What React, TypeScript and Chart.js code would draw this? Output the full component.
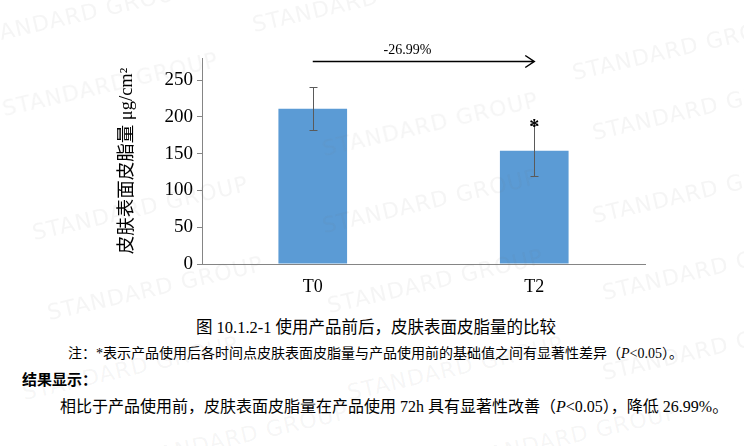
import React, { useEffect, useRef } from "react";
import { Chart, registerables } from "chart.js";

Chart.register(...registerables);

const categories = ["T0", "T2"];
const meanValues = [211, 154];
const errorValues = [29, 35];
const significant = [false, true];
const yTicks = [0, 50, 100, 150, 200, 250];
const yMax = 280;
const arrowLevel = 276;
const changeLabel = "-26.99%";
const yTitle = "皮肤表面皮脂量 μg/cm²";

const captionText = "图 10.1.2-1 使用产品前后，皮肤表面皮脂量的比较";
const resultHeading = "结果显示：";

const watermarks: Array<[number, number]> = [
  [70, 18], [350, 4], [670, 52],
  [100, 88], [420, 128], [690, 112],
  [130, 212], [420, 205], [690, 195],
  [145, 292], [425, 285], [700, 272],
  [120, 372], [445, 372], [700, 352],
  [230, 440], [560, 440],
];

const SERIF = "'Liberation Serif', 'Noto Sans CJK SC', serif";

export default function App() {
  const canvasRef = useRef<HTMLCanvasElement | null>(null);

  useEffect(() => {
    const canvas = canvasRef.current;
    if (!canvas) return;

    const annotations = {
      id: "annotations",
      afterDatasetsDraw(chart: any) {
        const ctx = chart.ctx;
        const yScale = chart.scales.y;
        const meta = chart.getDatasetMeta(0);
        ctx.save();
        ctx.strokeStyle = "#5a5a5a";
        ctx.lineWidth = 1;
        meta.data.forEach((bar: any, i: number) => {
          const x = Math.round(bar.x) + 0.5;
          const yt = Math.round(yScale.getPixelForValue(meanValues[i] + errorValues[i])) + 0.5;
          const yb = Math.round(yScale.getPixelForValue(meanValues[i] - errorValues[i])) + 0.5;
          ctx.beginPath();
          ctx.moveTo(x, yt);
          ctx.lineTo(x, yb);
          ctx.moveTo(x - 4, yt);
          ctx.lineTo(x + 4, yt);
          ctx.moveTo(x - 4, yb);
          ctx.lineTo(x + 4, yb);
          ctx.stroke();
          if (significant[i]) {
            ctx.fillStyle = "#000";
            ctx.font = `bold 20px ${SERIF}`;
            ctx.textAlign = "center";
            ctx.textBaseline = "alphabetic";
            ctx.fillText("*", bar.x, yt + 7);
          }
        });
        const x0 = meta.data[0].x;
        const x1 = meta.data[meta.data.length - 1].x;
        const ya = Math.round(yScale.getPixelForValue(arrowLevel)) + 0.5;
        ctx.strokeStyle = "#000";
        ctx.lineWidth = 1.5;
        ctx.beginPath();
        ctx.moveTo(x0, ya);
        ctx.lineTo(x1, ya);
        ctx.moveTo(x1 - 9, ya - 6);
        ctx.lineTo(x1, ya);
        ctx.lineTo(x1 - 9, ya + 6);
        ctx.stroke();
        ctx.fillStyle = "#000";
        ctx.font = `14px ${SERIF}`;
        ctx.textAlign = "center";
        ctx.textBaseline = "middle";
        ctx.fillText(changeLabel, (x0 + x1) / 2 - 16, ya - 11);
        ctx.restore();
      },
    };

    const chart = new Chart(canvas, {
      type: "bar",
      data: {
        labels: categories,
        datasets: [
          {
            data: meanValues,
            backgroundColor: "#5b9bd5",
            borderWidth: 0,
            barPercentage: 0.31,
            categoryPercentage: 1,
          },
        ],
      },
      options: {
        animation: false,
        responsive: false,
        maintainAspectRatio: false,
        events: [],
        layout: { padding: { left: 112, top: 58, right: 99, bottom: 0 } },
        plugins: {
          legend: { display: false },
          tooltip: { enabled: false },
          title: { display: false },
        },
        scales: {
          x: {
            grid: { display: true, drawOnChartArea: false, drawTicks: false },
            border: { display: true, color: "#858585", width: 1 },
            ticks: { color: "#000", font: { family: SERIF, size: 18 }, padding: 12 },
            afterFit(scale: any) {
              scale.height = 36;
            },
          },
          y: {
            min: 0,
            max: yMax,
            grid: { display: true, drawOnChartArea: false, drawTicks: true, tickLength: 5, color: "#858585" },
            border: { display: true, color: "#858585", width: 1 },
            ticks: { color: "#000", font: { family: SERIF, size: 19 }, padding: 4, stepSize: 50 },
            afterBuildTicks(scale: any) {
              scale.ticks = yTicks.map((v) => ({ value: v }));
            },
            afterFit(scale: any) {
              scale.width = 90;
            },
            title: {
              display: true,
              text: yTitle,
              color: "#000",
              font: { family: SERIF, size: 18.5 },
              padding: { top: 4, bottom: 0 },
            },
          },
        },
      },
      plugins: [annotations],
    } as any);

    return () => chart.destroy();
  }, []);

  return (
    <div style={{ position: "absolute", left: 0, top: 0, width: 744, height: 446, background: "#fff", overflow: "hidden", fontFamily: SERIF, color: "#000" }}>
      <canvas ref={canvasRef} width={744} height={300} style={{ position: "absolute", left: 0, top: 0, width: 744, height: 300 }} />
      <div style={{ position: "absolute", left: 0, width: 744, top: 317, textAlign: "center", fontSize: 16.5, lineHeight: "22px", paddingLeft: 8, boxSizing: "border-box" }}>
        {captionText}
      </div>
      <div style={{ position: "absolute", left: 68, top: 345, fontSize: 14, lineHeight: "18px", whiteSpace: "nowrap" }}>
        注：*表示产品使用后各时间点皮肤表面皮脂量与产品使用前的基础值之间有显著性差异（<i>P</i>&lt;0.05）。
      </div>
      <div style={{ position: "absolute", left: 22, top: 370, fontSize: 15, lineHeight: "20px", fontWeight: "bold", whiteSpace: "nowrap" }}>
        {resultHeading}
      </div>
      <div style={{ position: "absolute", left: 60, top: 397, fontSize: 16, lineHeight: "20px", whiteSpace: "nowrap" }}>
        相比于产品使用前，皮肤表面皮脂量在产品使用 72h 具有显著性改善（<i>P</i>&lt;0.05），降低 26.99%。
      </div>
      {watermarks.map(([x, y], i) => (
        <div
          key={i}
          style={{
            position: "absolute",
            left: x - 100,
            top: y - 14,
            width: 200,
            textAlign: "center",
            fontFamily: "'DejaVu Sans', sans-serif",
            fontSize: 22,
            letterSpacing: 1,
            color: "rgba(120,120,120,0.07)",
            transform: "rotate(-13deg)",
            pointerEvents: "none",
            whiteSpace: "nowrap",
          }}
        >
          STANDARD GROUP
        </div>
      ))}
    </div>
  );
}
